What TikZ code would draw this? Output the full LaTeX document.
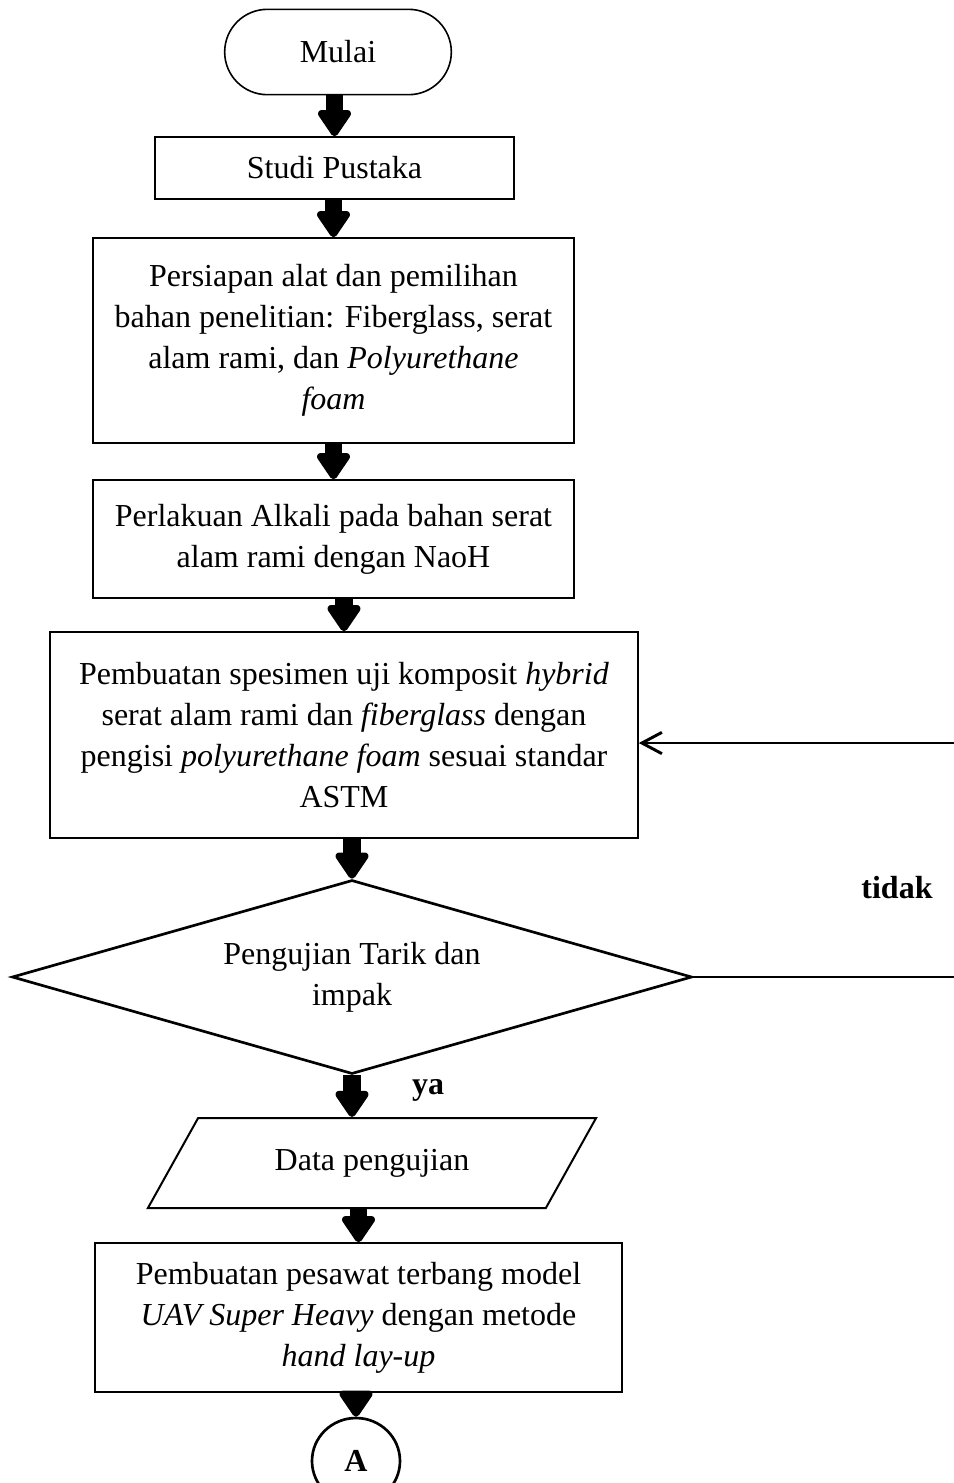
\documentclass[tikz,border=0pt]{standalone}
\usepackage{fontspec}
\setmainfont{Liberation Serif}
\usetikzlibrary{arrows.meta,shapes.geometric}

\begin{document}
\begin{tikzpicture}[x=0.375pt, y=-0.375pt,
		every node/.style={font=\fontsize{12}{15.4}\selectfont, align=center},
		proses/.style={draw, line width=0.6pt, inner sep=0pt},
		keputusan/.style={draw, diamond, shape aspect=3.5, line width=1pt, inner sep=0pt},
		masukan/.style={draw, trapezium, trapezium left angle=45, trapezium right angle=135, trapezium stretches=true, line width=0.75pt, inner sep=0pt},
		panah/.style={line width=6.4pt, -{Triangle[width=14pt,length=11pt,round,line width=6pt]}},
		balikpanah/.style={line width=1.1pt, -{Straight Barb[length=7.5pt,width=8pt]}}]
		%%%%% START %%%%%
		
		\useasboundingbox (0, 0) rectangle (954, 1483);
		
		\node[proses, rounded corners=16pt, minimum width=85pt, minimum height=32pt] (mulai) at (338, 52) {Mulai};
		\node[proses, minimum width=134.6pt, minimum height=23.25pt] (studi) at (334.5, 168) {Studi Pustaka};
		\node[proses, minimum width=180.4pt, minimum height=76.9pt] (persiapan) at (333.5, 340.5) {Persiapan alat dan pemilihan\\ bahan penelitian: Fiberglass, serat\\ alam rami, dan \textit{Polyurethane}\\ \textit{foam}};
		\node[proses, minimum width=180.4pt, minimum height=44.25pt] (perlakuan) at (333.5, 539) {Perlakuan Alkali pada bahan serat\\ alam rami dengan NaoH};
		\node[proses, minimum width=220.5pt, minimum height=77.25pt] (spesimen) at (344, 735) {Pembuatan spesimen uji komposit \textit{hybrid}\\ serat alam rami dan \textit{fiberglass} dengan\\ pengisi \textit{polyurethane foam} sesuai standar\\ ASTM};
		
		\node[keputusan, minimum width=255pt, minimum height=72.75pt] (uji) at (352, 977) {Pengujian Tarik dan\\ impak};
		\node[masukan, minimum width=168.75pt, minimum height=33.75pt] (data) at (372, 1163) {Data pengujian};
		\node[proses, minimum width=197.6pt, minimum height=55.9pt] (pesawat) at (358.5, 1317.5) {Pembuatan pesawat terbang model\\ \textit{UAV Super Heavy} dengan metode\\ \textit{hand lay-up}};
		\node[draw, ellipse, line width=1pt, inner sep=0pt, minimum width=33pt, minimum height=32.25pt, font=\fontsize{12}{15.4}\selectfont\bfseries] (A) at (356, 1461) {A};
		
		\node[font=\fontsize{12}{15.4}\selectfont\bfseries] (tidak) at (897, 888) {tidak};
		\node[font=\fontsize{12}{15.4}\selectfont\bfseries] (ya) at (428, 1090) {ya};
		
		\draw[panah] (mulai.south -| studi.north) -- (studi.north);
		\draw[panah] (studi.south -| persiapan.north) -- (persiapan.north);
		\draw[panah] (persiapan.south -| perlakuan.north) -- (perlakuan.north);
		\draw[panah] (perlakuan.south -| spesimen.north) -- (spesimen.north);
		\draw[panah] (spesimen.south -| uji.north) -- (uji.north);
		\draw[panah] (uji.south) -- (uji.south |- data.north);
		\draw[panah] (data.south -| pesawat.north) -- (pesawat.north);
		\draw[panah] (pesawat.south -| A.north) -- (A.north);
		
		\coordinate (balik) at (962, 743);
		\draw[balikpanah] (uji.east) -| (balik) -- (balik -| spesimen.east);
		
		%%%%% END %%%%%
\end{tikzpicture}
\end{document}
